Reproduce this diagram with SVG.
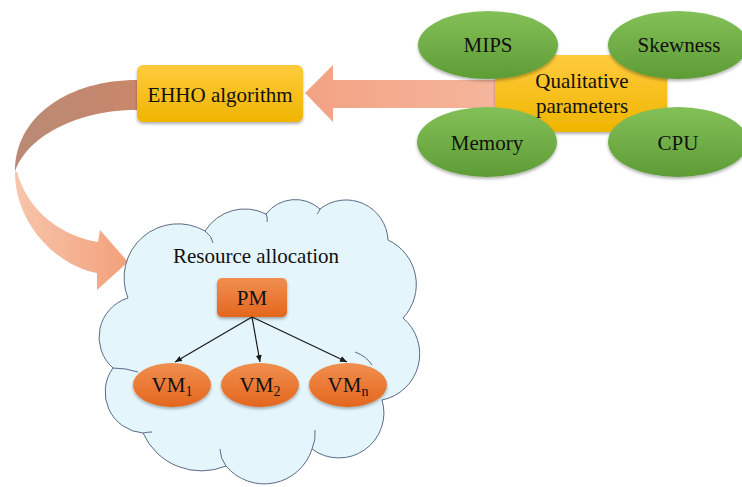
<svg xmlns="http://www.w3.org/2000/svg" width="742" height="487" viewBox="0 0 742 487">
<defs>
<style>
text{font-family:"Liberation Serif","Times New Roman",serif;fill:#111111;font-size:21px;text-anchor:middle}
.grn{fill:url(#gG);filter:url(#sh)}
.yel{fill:url(#gY);filter:url(#sh)}
.org{fill:url(#gO);filter:url(#sh)}
.cl{fill:none;stroke:#5b6b87;stroke-width:1}
.ln{stroke:#1a1a1a;stroke-width:1.2;fill:none;marker-end:url(#ah)}
</style>
<linearGradient id="gG" x1="0" y1="0" x2="0" y2="1"><stop offset="0" stop-color="#83c057"/><stop offset="1" stop-color="#5e9c36"/></linearGradient>
<linearGradient id="gY" x1="0" y1="0" x2="0" y2="1"><stop offset="0" stop-color="#ffcb3d"/><stop offset="1" stop-color="#efb500"/></linearGradient>
<linearGradient id="gO" x1="0" y1="0" x2="0" y2="1"><stop offset="0" stop-color="#f18f50"/><stop offset="1" stop-color="#e3661d"/></linearGradient>
<linearGradient id="gA" x1="0" y1="0" x2="1" y2="0"><stop offset="0" stop-color="#f2a283"/><stop offset="1" stop-color="#f5b69c"/></linearGradient>
<linearGradient id="gT" x1="0" y1="0" x2="1" y2="0"><stop offset="0" stop-color="#b98a76"/><stop offset="1" stop-color="#c9876a"/></linearGradient>
<linearGradient id="gB" x1="0" y1="0" x2="1" y2="0"><stop offset="0" stop-color="#f7c5ac"/><stop offset="1" stop-color="#f3a07b"/></linearGradient>
<filter id="sh" x="-20%" y="-20%" width="140%" height="150%"><feDropShadow dx="0" dy="2" stdDeviation="1.5" flood-color="#000" flood-opacity="0.3"/></filter>
<marker id="ah" markerWidth="8" markerHeight="8" refX="7" refY="4" orient="auto" markerUnits="userSpaceOnUse"><path d="M0,1 L7,4 L0,7 Z" fill="#1a1a1a"/></marker>
</defs>
<rect width="742" height="487" fill="#ffffff"/>

<g id="connectors">
<path id="arrow-params-ehho" d="M305,93 L333,65 L333,80 L497,80 L497,108 L333,108 L333,122 Z" fill="url(#gA)"/>
<path id="arrow-ehho-cloud-top" d="M137,80 C70,80 15,115 15,172 C25,140 72,110 137,110 Z" fill="url(#gT)"/>
<path id="arrow-ehho-cloud-bottom" d="M15,172 C15,225 58,266 97,273 L97,290 L128,262 L100,230 L98,242 C62,236 28,212 17,172 Z" fill="url(#gB)"/>
</g>

<g id="cloud">
<path d="M128,298 A54,54 0 0 1 205,231 A47,47 0 0 1 266,214 A37,37 0 0 1 320,209 A42,42 0 0 1 388,240 A49,49 0 0 1 403,318 A47,47 0 0 1 382,400 A45,45 0 0 1 312,449 A50,50 0 0 1 226,466 A64,64 0 0 1 143,433 A41,41 0 0 1 113,368 A41,41 0 0 1 128,298 Z" fill="#e4f5fc" stroke="#5b6b87" stroke-width="1"/>
<path class="cl" d="M205,231 Q212,236 213,243"/>
<path class="cl" d="M266,214 Q268,218 267,222"/>
<path class="cl" d="M320,209 Q319,212 317,214"/>
<path class="cl" d="M355,352 Q366,356 372,365"/>
<path class="cl" d="M312,449 Q316,440 315,430"/>
<path class="cl" d="M226,466 Q220,458 220,449"/>
<path class="cl" d="M143,433 Q148,432 152,432"/>
<path class="cl" d="M113,368 Q126,368 138,372"/>
<text x="256" y="263">Resource allocation</text>
</g>

<g id="ehho">
<rect class="yel" x="137" y="65" width="166" height="57" rx="6"/>
<text x="220" y="102">EHHO algorithm</text>
</g>

<g id="qualitative">
<rect class="yel" x="495" y="55" width="172" height="77"/>
</g>
<g id="mips"><ellipse class="grn" cx="488" cy="45" rx="70" ry="34"/><text x="488" y="52">MIPS</text></g>
<g id="skewness"><ellipse class="grn" cx="678" cy="45" rx="70" ry="34"/><text x="679" y="52">Skewness</text></g>
<g id="memory"><ellipse class="grn" cx="487" cy="142" rx="70" ry="35"/><text x="487" y="150">Memory</text></g>
<g id="cpu"><ellipse class="grn" cx="678" cy="142" rx="70" ry="35"/><text x="678" y="150">CPU</text></g>
<g id="qualitative-label"><text x="582" y="88">Qualitative</text><text x="582" y="113">parameters</text></g>

<g id="pm">
<rect class="org" x="217" y="278" width="70" height="39" rx="5"/>
<text x="252" y="305">PM</text>
</g>
<g id="vm-links">
<path class="ln" d="M252,317 L175,362"/>
<path class="ln" d="M252,317 L260,362"/>
<path class="ln" d="M252,317 L347,362"/>
</g>
<g id="vm1"><ellipse class="org" cx="172" cy="385" rx="39" ry="22"/><text x="172" y="392">VM<tspan font-size="14" dy="4">1</tspan></text></g>
<g id="vm2"><ellipse class="org" cx="260" cy="385" rx="39" ry="22"/><text x="260" y="392">VM<tspan font-size="14" dy="4">2</tspan></text></g>
<g id="vmn"><ellipse class="org" cx="348" cy="385" rx="39" ry="22"/><text x="348" y="392">VM<tspan font-size="14" dy="4">n</tspan></text></g>
</svg>
